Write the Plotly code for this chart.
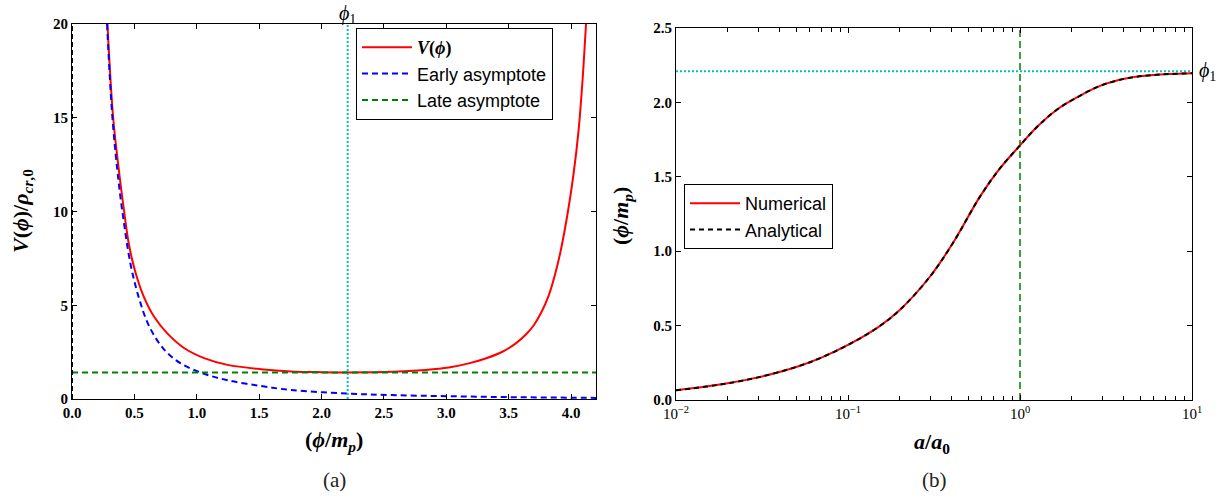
import plotly.graph_objects as go

# ---------------- panel (a): potential and its asymptotes ----------------
phi_v = [0.284, 0.330, 0.383, 0.416, 0.456, 0.509, 0.576, 0.657, 0.764, 0.898,
         1.059, 1.247, 1.515, 1.758, 2.00, 2.21, 2.565, 2.833, 3.02, 3.18,
         3.315, 3.45, 3.56, 3.64, 3.70, 3.76, 3.82, 3.87, 3.92, 3.98,
         4.02, 4.06, 4.09, 4.12]
v_phi = [20.0, 15.0, 11.8, 10.1, 8.25, 6.75, 5.45, 4.40, 3.50, 2.72,
         2.18, 1.82, 1.59, 1.47, 1.43, 1.42, 1.45, 1.55, 1.68, 1.90,
         2.16, 2.52, 2.98, 3.45, 3.92, 4.6, 5.5, 6.6, 8.0, 10.2,
         12.0, 14.3, 16.8, 20.0]

phi_early = [0.281, 0.324, 0.375, 0.41, 0.469, 0.536, 0.617, 0.737, 0.871, 1.046,
             1.247, 1.515, 1.758, 2.21, 2.565, 3.0, 3.5, 4.2]
v_early = [20.0, 15.0, 11.5, 9.7, 7.2, 5.4, 3.9, 2.65, 1.9, 1.375,
           1.0, 0.69, 0.48, 0.29, 0.21, 0.15, 0.10, 0.06]

v_late = 1.42          # late-time asymptote level
phi_1 = 2.21           # location of the minimum

x_ticks_a = [0.0, 0.5, 1.0, 1.5, 2.0, 2.5, 3.0, 3.5, 4.0]
y_ticks_a = [0, 5, 10, 15, 20]

# ---------------- panel (b): field evolution ----------------
a_over_a0 = [0.01, 0.015, 0.02, 0.03, 0.05, 0.07, 0.1, 0.15, 0.2, 0.3,
             0.41, 0.585, 0.764, 1.0, 1.25, 1.63, 2.14, 2.92, 4.18, 5.98, 10.0]
phi_numerical = [0.065, 0.090, 0.112, 0.152, 0.222, 0.285, 0.37, 0.49, 0.605, 0.83,
                 1.06, 1.367, 1.556, 1.711, 1.833, 1.949, 2.033, 2.111, 2.162, 2.184, 2.196]
phi_analytical = list(phi_numerical)

# decade labels on the logarithmic axis
x_label_alias_b = {"0.01": "10<sup>−2</sup>", "0.1": "10<sup>−1</sup>",
                   "1": "10<sup>0</sup>", "10": "10<sup>1</sup>"}
y_ticks_b = [0.0, 0.5, 1.0, 1.5, 2.0, 2.5]

W, H = 1229, 499
SERIF = "Liberation Serif"
SANS = "Liberation Sans"
PHI = "\u03d5"


def px(xp):
    return xp / W


def py(yp):
    return 1 - yp / H


fig = go.Figure()

# panel (a) traces
fig.add_trace(go.Scatter(x=phi_v, y=v_phi, mode="lines",
                         line=dict(color="#ff0000", width=2, shape="spline", smoothing=1.0),
                         name=f'<span style="font-family:Liberation Serif"><b><i>V</i>(<i>{PHI}</i>)</b></span>',
                         xaxis="x", yaxis="y", legend="legend"))
fig.add_trace(go.Scatter(x=phi_early, y=v_early, mode="lines",
                         line=dict(color="#0000ff", width=2, dash="6px,4px", shape="spline", smoothing=1.0),
                         name="Early asymptote", xaxis="x", yaxis="y", legend="legend"))
fig.add_trace(go.Scatter(x=[0, 4.2], y=[v_late, v_late], mode="lines",
                         line=dict(color="#008000", width=2, dash="6px,4px"),
                         name="Late asymptote", xaxis="x", yaxis="y", legend="legend"))
fig.add_trace(go.Scatter(x=[phi_1, phi_1], y=[0, 20], mode="lines",
                         line=dict(color="#00bfbf", width=2, dash="2px,2px"),
                         showlegend=False, xaxis="x", yaxis="y"))
fig.add_trace(go.Scatter(x=[0, 0], y=[0, 20], mode="lines",
                         line=dict(color="black", width=2, dash="5px,3px"),
                         showlegend=False, xaxis="x", yaxis="y"))

# panel (b) traces
fig.add_trace(go.Scatter(x=[0.01, 10], y=[phi_1, phi_1], mode="lines",
                         line=dict(color="#00bfbf", width=2, dash="2px,2px"),
                         showlegend=False, xaxis="x2", yaxis="y2"))
fig.add_trace(go.Scatter(x=[1, 1], y=[0, 2.5], mode="lines",
                         line=dict(color="#008000", width=1.5, dash="7px,4px"),
                         showlegend=False, xaxis="x2", yaxis="y2"))
fig.add_trace(go.Scatter(x=a_over_a0, y=phi_numerical, mode="lines",
                         line=dict(color="#ff0000", width=2, shape="spline", smoothing=1.0),
                         name="Numerical", xaxis="x2", yaxis="y2", legend="legend2"))
fig.add_trace(go.Scatter(x=a_over_a0, y=phi_analytical, mode="lines",
                         line=dict(color="black", width=2, dash="5px,4px", shape="spline", smoothing=1.0),
                         name="Analytical", xaxis="x2", yaxis="y2", legend="legend2"))

tick_bold = dict(family=SERIF, size=15, color="black", weight="bold")
tick_reg = dict(family=SERIF, size=15, color="black")
axis_common = dict(showline=True, linecolor="black", linewidth=1, mirror="allticks",
                   ticks="inside", ticklen=5, tickwidth=1, tickcolor="black",
                   showgrid=False, zeroline=False)

fig.update_layout(
    width=W, height=H,
    margin=dict(l=0, r=0, t=0, b=0, autoexpand=False),
    paper_bgcolor="white", plot_bgcolor="white",
    xaxis=dict(domain=[px(72), px(596)], range=[0, 4.2], tickvals=x_ticks_a,
               ticktext=[f"{v:.1f}" for v in x_ticks_a], tickfont=tick_bold,
               anchor="y", **axis_common),
    yaxis=dict(domain=[py(399), py(24)], range=[0, 20], tickvals=y_ticks_a,
               tickfont=tick_bold, anchor="x", **axis_common),
    xaxis2=dict(domain=[px(676), px(1192)], type="log", range=[-2, 1],
                tickmode="linear", tick0=0, dtick=1, labelalias=x_label_alias_b,
                tickfont=tick_reg, anchor="y2",
                minor=dict(ticks="inside", ticklen=4, tickwidth=1,
                           tickcolor="black", showgrid=False),
                **axis_common),
    yaxis2=dict(domain=[py(400), py(28)], range=[0, 2.5], tickvals=y_ticks_b,
                ticktext=[f"{v:.1f}" for v in y_ticks_b], tickfont=tick_bold,
                anchor="x2", **axis_common),
    legend=dict(x=px(356), y=py(28), xanchor="left", yanchor="top",
                bordercolor="black", borderwidth=1, bgcolor="white",
                font=dict(family=SANS, size=18, color="black"), itemwidth=50),
    legend2=dict(x=px(684), y=py(184), xanchor="left", yanchor="top",
                 bordercolor="black", borderwidth=1, bgcolor="white",
                 font=dict(family=SANS, size=18, color="black"), itemwidth=50),
    showlegend=True,
)

math_font = dict(family=SERIF, size=22, color="black")
centered = dict(xref="paper", yref="paper", xanchor="center", yanchor="middle", showarrow=False)
annotations = [
    # axis titles
    dict(text=f"<b><i>V</i>(<i>{PHI}</i>)/<i>ρ</i><sub><i>cr</i>,0</sub></b>", x=px(22), y=py(211),
         textangle=-90, font=math_font, **centered),
    dict(text=f"<b>(<i>{PHI}</i>/<i>m</i><sub><i>p</i></sub>)</b>", x=px(334), y=py(441),
         font=math_font, **centered),
    dict(text=f"<b>(<i>{PHI}</i>/<i>m</i><sub><i>p</i></sub>)</b>", x=px(622), y=py(216),
         textangle=-90, font=math_font, **centered),
    dict(text="<b><i>a</i>/<i>a</i><sub>0</sub></b>", x=px(932), y=py(443),
         font=math_font, **centered),
    # phi_1 markers
    dict(text=f"<i>{PHI}</i><sub>1</sub>", x=phi_1, y=py(0), xref="x", yref="paper",
         xanchor="center", yanchor="top", showarrow=False,
         font=dict(family=SERIF, size=20, color="black")),
    dict(text=f"<i>{PHI}</i><sub>1</sub>", x=px(1197), y=phi_1, xref="paper", yref="y2",
         xanchor="left", yanchor="middle", showarrow=False,
         font=dict(family=SERIF, size=20, color="black")),
    # sub-figure captions
    dict(text="(a)", x=px(334), y=py(480), font=dict(family=SERIF, size=21, color="#222"), **centered),
    dict(text="(b)", x=px(934), y=py(480), font=dict(family=SERIF, size=21, color="#222"), **centered),
]
fig.update_layout(annotations=annotations)

fig.write_html("out.html")
